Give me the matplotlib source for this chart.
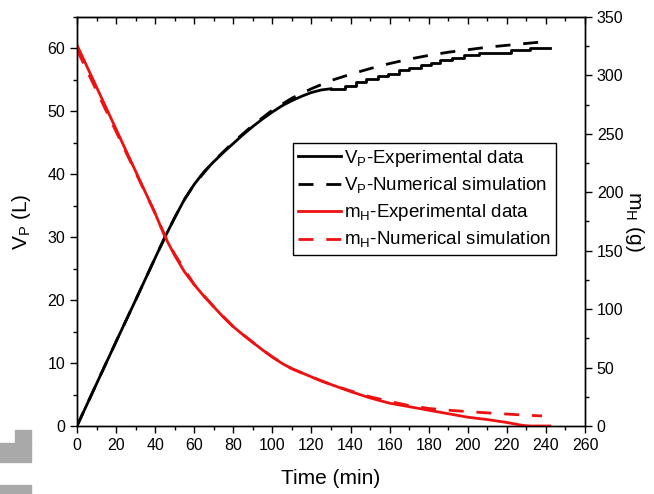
import matplotlib
matplotlib.use("Agg")
import matplotlib.pyplot as plt
from matplotlib.patches import Rectangle
from matplotlib.ticker import MultipleLocator

plt.rcParams['font.family'] = ['Liberation Sans', 'DejaVu Sans']
plt.rcParams['mathtext.fontset'] = 'custom'
plt.rcParams['mathtext.rm'] = 'Liberation Sans'

# V_P experimental, smooth part (min, L)
t_vexp = [0, 10, 20, 30, 40, 45, 50, 55, 60, 65, 70, 75, 80, 85, 90, 95, 100, 105, 110, 115, 120, 125, 130]
v_exp = [0, 6.7, 13.4, 20.0, 26.7, 30.0, 33.1, 36.0, 38.4, 40.4, 42.0, 43.5, 44.9, 46.3, 47.6, 48.8, 49.9, 50.9, 51.7, 52.4, 53.0, 53.4, 53.6]
# V_P experimental, stepped part
t_vstep = [130, 137, 143, 148, 154, 159, 165, 170, 176, 181, 186, 192, 198, 206, 222, 232, 242]
v_step = [53.6, 54.1, 54.65, 55.2, 55.6, 56.0, 56.5, 56.9, 57.3, 57.7, 58.1, 58.5, 58.9, 59.3, 59.7, 60.1, 60.1]

# V_P numerical simulation
t_vsim = [0, 10, 20, 30, 40, 45, 50, 55, 60, 70, 80, 90, 100, 110, 120, 130, 140, 150, 160, 170, 180, 190, 200, 210, 220, 230, 237]
v_sim = [0, 6.7, 13.4, 20.0, 26.7, 30.0, 33.1, 36.0, 38.4, 42.1, 45.1, 47.8, 50.2, 52.1, 53.6, 54.9, 55.9, 56.8, 57.6, 58.3, 58.9, 59.4, 59.8, 60.2, 60.5, 60.8, 61.0]

# m_H experimental (min, g)
t_mexp = [0, 10, 20, 30, 40, 45, 50, 55, 60, 65, 70, 75, 80, 85, 90, 95, 100, 105, 110, 115, 120, 125, 130,
          140, 150, 160, 170, 180, 190, 200, 210, 220, 228, 232, 242]
m_exp = [326, 290, 254, 218, 182, 162, 146, 132, 121, 111, 102, 93, 85, 78, 71.5, 65, 59, 53.5, 49, 45.5, 42, 38.5, 35.5,
         29.5, 24, 19.5, 16.5, 13.5, 10.5, 7.5, 5.5, 3, 0.5, 0, 0]

# m_H numerical simulation
t_msim = [0, 10, 20, 30, 40, 45, 50, 60, 70, 80, 90, 100, 110, 120, 130, 140, 150, 160, 170, 180, 190, 200, 210, 220, 230, 238]
m_sim = [322, 287, 252, 217, 182, 163, 147, 121, 102, 85, 71.5, 59, 49, 42, 35.5, 30, 25, 21, 17.5, 15, 13.5, 12.3, 11.2, 10.2, 9.2, 8.6]

fig = plt.figure(figsize=(6.54, 4.94), dpi=100)
ax = fig.add_axes([0.1177, 0.1377, 0.7768, 0.8279])
ax2 = ax.twinx()

lw = 2.0
dash = (5.4, 4.6)
red = '#ee1111'
h1, = ax.plot(t_vexp, v_exp, color='black', lw=lw, label='V$_\\mathregular{P}$-Experimental data')
ax.step(t_vstep, v_step, where='post', color='black', lw=lw)
h2, = ax.plot(t_vsim, v_sim, color='black', lw=lw, dashes=dash, label='V$_\\mathregular{P}$-Numerical simulation')
h3, = ax2.plot(t_mexp, m_exp, color=red, lw=lw, label='m$_\\mathregular{H}$-Experimental data')
h4, = ax2.plot(t_msim, m_sim, color=red, lw=lw, dashes=dash, label='m$_\\mathregular{H}$-Numerical simulation')

ax.set_xlim(0, 260)
ax.set_ylim(0, 65)
ax2.set_ylim(0, 350)

ax.xaxis.set_major_locator(MultipleLocator(20))
ax.xaxis.set_minor_locator(MultipleLocator(10))
ax.yaxis.set_major_locator(MultipleLocator(10))
ax.yaxis.set_minor_locator(MultipleLocator(5))
ax2.yaxis.set_major_locator(MultipleLocator(50))
ax2.yaxis.set_minor_locator(MultipleLocator(25))

for a in (ax, ax2):
    a.tick_params(which='major', length=5, width=1, labelsize=11.5, direction='out')
    a.tick_params(which='minor', length=3, width=1, direction='out')
    for s in a.spines.values():
        s.set_linewidth(1.0)

top = ax.secondary_xaxis('top')
top.xaxis.set_major_locator(MultipleLocator(20))
top.xaxis.set_minor_locator(MultipleLocator(10))
top.tick_params(which='major', direction='in', length=5, width=1, labeltop=False)
top.tick_params(which='minor', direction='in', length=3, width=1)

ax.set_xlabel('Time (min)', fontsize=15, labelpad=12)
ax.set_ylabel('V$_\\mathregular{P}$ (L)', fontsize=15, labelpad=10)
ax2.set_ylabel('m$_\\mathregular{H}$ (g)', fontsize=15, rotation=270, labelpad=16)

leg = ax2.legend(handles=[h1, h2, h3, h4], loc='upper left', bbox_to_anchor=(0.426, 0.692),
                 borderaxespad=0, fontsize=13.5, frameon=True, fancybox=False,
                 edgecolor='black', framealpha=1, handlelength=2.3, handletextpad=0.15,
                 labelspacing=0.36, borderpad=0.25)
leg.get_frame().set_linewidth(1.0)

# grey scan blocks in the lower left corner
grey = '#a9a9a9'
for x0, y0, w, h in [(15, 430, 16, 14), (0, 443, 31, 19), (0, 485, 31, 9)]:
    fig.patches.append(Rectangle((x0 / 654, 1 - (y0 + h) / 494), w / 654, h / 494,
                                 transform=fig.transFigure, color=grey, zorder=0))

fig.savefig('out.png', dpi=100)
